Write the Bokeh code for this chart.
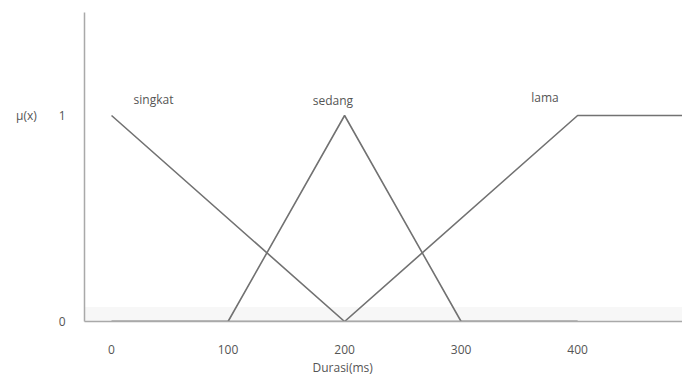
from bokeh.plotting import figure
from bokeh.models import Range1d, FixedTicker, Label, Title
from bokeh.embed import file_html
from bokeh.resources import INLINE

# data
singkat_x = [0, 200, 400]
singkat_y = [1, 0, 0]
sedang_x = [0, 100, 200, 300, 400]
sedang_y = [0, 0, 1, 0, 0]
lama_x = [0, 200, 400, 500]
lama_y = [0, 0, 1, 1]
x_ticks = [0, 100, 200, 300, 400]
y_ticks = [0, 1]
y_tick_labels = {0: "0", 1: "μ(x)\u00a0\u00a0\u00a0\u00a0\u00a0\u00a0\u00a01"}
set_names = ["singkat", "sedang", "lama"]
name_x = [36, 190, 372]
name_y = [1.08, 1.075, 1.085]
x_title = "Durasi(ms)"

FONT = "Open Sans"
LINE = "#727272"
AXIS = "#a9a9a9"
TEXT = "#555555"

p = figure(width=682, height=376, output_backend="svg", toolbar_location=None,
           x_range=Range1d(-23.2, 490), y_range=Range1d(0, 1.5),
           min_border_left=84, min_border_right=0, min_border_top=12, min_border_bottom=55)
p.outline_line_color = None
p.grid.visible = False
p.background_fill_color = "white"
p.border_fill_color = "white"

for ax in (p.xaxis[0], p.yaxis[0]):
    ax.axis_line_color = AXIS
    ax.axis_line_width = 1.5
    ax.major_tick_line_color = None
    ax.minor_tick_line_color = None
    ax.major_label_text_font = FONT
    ax.major_label_text_font_size = "12px"
    ax.major_label_text_color = TEXT

p.xaxis.ticker = FixedTicker(ticks=x_ticks)
p.xaxis.major_label_standoff = 17
p.yaxis.ticker = FixedTicker(ticks=y_ticks)
p.yaxis.major_label_overrides = y_tick_labels
p.yaxis.major_label_standoff = 13

p.add_layout(Title(text=x_title, align="left", offset=228, text_font=FONT,
                   text_font_size="12px", text_font_style="normal", text_color=TEXT,
                   standoff=0, text_line_height=1.0), "below")

# faint band above baseline
p.quad(left=-23.2, right=490, bottom=0, top=0.07, fill_color="#f7f7f7", line_color=None)

p.line(singkat_x, singkat_y, line_color=LINE, line_width=1.6)
p.line(sedang_x, sedang_y, line_color=LINE, line_width=1.6)
p.line(lama_x, lama_y, line_color=LINE, line_width=1.6)

for n, lx, ly in zip(set_names, name_x, name_y):
    p.add_layout(Label(x=lx, y=ly, text=n, text_font=FONT, text_font_size="12px",
                       text_color=TEXT, text_align="center", text_baseline="middle"))

open("out.html", "w").write(file_html(p, INLINE))
